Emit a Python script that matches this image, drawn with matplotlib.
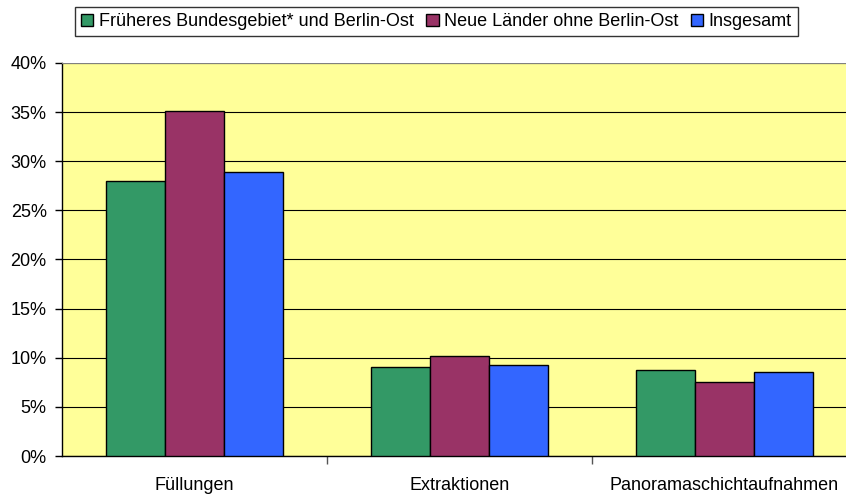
import matplotlib
matplotlib.use('Agg')
import matplotlib.pyplot as plt
import numpy as np
from matplotlib.ticker import FuncFormatter

categories = ['Füllungen', 'Extraktionen', 'Panoramaschichtaufnahmen']
series_names = ['Früheres Bundesgebiet* und Berlin-Ost', 'Neue Länder ohne Berlin-Ost', 'Insgesamt']
west = [28.0, 9.1, 8.8]
east = [35.1, 10.2, 7.5]
total = [28.9, 9.3, 8.5]
colors = ['#339966', '#993366', '#3366FF']

plt.rcParams['font.family'] = ['Liberation Sans', 'DejaVu Sans']

W, H = 846, 498
fig = plt.figure(figsize=(W / 100, H / 100), dpi=100)
# plot area runs past the right edge of the picture, as in the original
ax = fig.add_axes([62 / W, (H - 456) / H, (857 - 62) / W, (456 - 63) / H])
ax.set_facecolor('#FFFF99')

x = np.arange(len(categories))
bw = 0.2226
for i, (vals, name) in enumerate(zip([west, east, total], series_names)):
    ax.bar(x + (i - 1) * bw, vals, bw, color=colors[i], edgecolor='black',
           linewidth=1, label=name, zorder=3)

ax.set_xlim(-0.5, len(categories) - 0.5)
ax.set_ylim(0, 40)
ax.set_yticks(np.arange(0, 41, 5))
ax.yaxis.set_major_formatter(FuncFormatter(lambda v, p: f'{int(v)}%'))
ax.yaxis.grid(True, color='black', linewidth=0.8, zorder=0)
ax.set_axisbelow(True)

ax.set_xticks(x)
ax.set_xticklabels(categories)
ax.set_xticks(np.arange(0.5, len(categories) - 0.5, 1), minor=True)
ax.tick_params(axis='x', which='major', length=0, pad=15, labelsize=13)
ax.tick_params(axis='x', which='minor', length=6, color='#555555', width=1)
ax.tick_params(axis='y', length=5, pad=6, labelsize=13, width=1)

for s in ['top', 'right']:
    ax.spines[s].set_visible(False)
ax.spines['left'].set_linewidth(1)
ax.spines['bottom'].set_linewidth(1)
ax.axhline(40, color='#808080', linewidth=1.5, zorder=4)

leg = fig.legend(loc='center', bbox_to_anchor=(436.5 / W, 1 - 21.5 / H), ncol=3,
                 fontsize=13, frameon=True, fancybox=False, handlelength=0.67,
                 handleheight=0.67, handletextpad=0.3, columnspacing=0.7,
                 borderpad=0.35, borderaxespad=0)
leg.get_frame().set_edgecolor('black')
leg.get_frame().set_linewidth(1)

fig.savefig('out.png', dpi=100)
